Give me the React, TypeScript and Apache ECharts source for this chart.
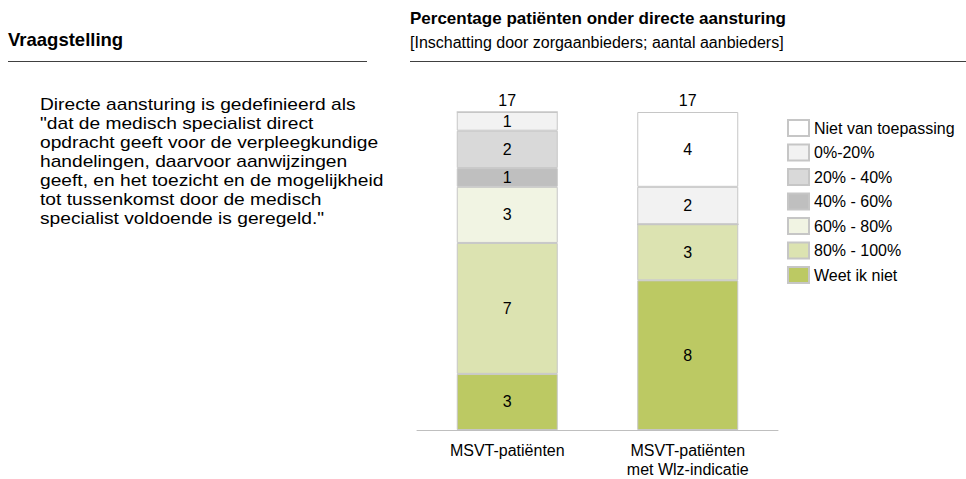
import React, { useEffect, useRef } from "react";
import * as echarts from "echarts";

const categories = ["MSVT-patiënten", "MSVT-patiënten\nmet Wlz-indicatie"];
const seriesNames = ["Weet ik niet", "80% - 100%", "60% - 80%", "40% - 60%", "20% - 40%", "0%-20%", "Niet van toepassing"];
const weetIkNiet = [3, 8];
const p80_100 = [7, 3];
const p60_80 = [3, 0];
const p40_60 = [1, 0];
const p20_40 = [2, 0];
const p0_20 = [1, 2];
const nietVanToepassing = [0, 4];
const totals = [17, 17];
const seriesColors = ["#BCC963", "#DCE3B1", "#F1F4E3", "#BFBFBF", "#D9D9D9", "#F2F2F2", "#FFFFFF"];
const legendOrder = ["Niet van toepassing", "0%-20%", "20% - 40%", "40% - 60%", "60% - 80%", "80% - 100%", "Weet ik niet"];

const paragraph = [
  "Directe aansturing is gedefinieerd als",
  "\"dat de medisch specialist direct",
  "opdracht geeft voor de verpleegkundige",
  "handelingen, daarvoor aanwijzingen",
  "geeft, en het toezicht en de mogelijkheid",
  "tot tussenkomst door de medisch",
  "specialist voldoende is geregeld.\"",
];

const FONT = "'Liberation Sans', Arial, sans-serif";

export default function App() {
  const ref = useRef<HTMLDivElement>(null);
  useEffect(() => {
    if (!ref.current) return;
    const chart = echarts.init(ref.current, undefined, { renderer: "svg" });
    const values = [weetIkNiet, p80_100, p60_80, p40_60, p20_40, p0_20, nietVanToepassing];
    const series: any[] = values.map((v, i) => ({
      name: seriesNames[i],
      type: "bar",
      stack: "total",
      barWidth: 101,
      data: v,
      itemStyle: { color: seriesColors[i], borderColor: "#C6C6C6", borderWidth: 1 },
      label: {
        show: true,
        position: "inside",
        color: "#000",
        fontSize: 16,
        fontFamily: FONT,
        formatter: (p: any) => (p.value ? String(p.value) : ""),
      },
    }));
    series.push({
      name: "totaal",
      type: "bar",
      stack: "total",
      barWidth: 101,
      data: totals.map(() => 0),
      itemStyle: { color: "transparent", borderWidth: 0 },
      label: {
        show: true,
        position: "top",
        distance: 4,
        color: "#000",
        fontSize: 16,
        fontFamily: FONT,
        formatter: (p: any) => String(totals[p.dataIndex]),
      },
    });
    const textStyle = { fill: "#000", fontFamily: FONT };
    chart.setOption({
      animation: false,
      textStyle: { fontFamily: FONT },
      grid: { left: 417, right: 188, top: 112, bottom: 49, containLabel: false },
      xAxis: {
        type: "category",
        data: categories,
        axisLine: { show: true, lineStyle: { color: "#BFBFBF", width: 1 } },
        axisTick: { show: false },
        axisLabel: { color: "#000", fontSize: 16, fontFamily: FONT, margin: 11, lineHeight: 19 },
      },
      yAxis: { type: "value", min: 0, max: 17, show: false },
      legend: {
        data: legendOrder,
        orient: "vertical",
        left: 787,
        top: 119,
        padding: 0,
        itemWidth: 21,
        itemHeight: 16,
        itemGap: 6.5,
        icon: "rect",
        textStyle: { color: "#000", fontSize: 16, fontFamily: FONT },
      },
      series,
      graphic: [
        { type: "text", left: 8, top: 30, style: { ...textStyle, fontSize: 18.5, text: "Vraagstelling", fontWeight: "bold" } },
        { type: "text", left: 410, top: 10, style: { ...textStyle, fontSize: 17, text: "Percentage patiënten onder directe aansturing", fontWeight: "bold" } },
        { type: "text", left: 410, top: 34, style: { ...textStyle, fontSize: 16, text: "[Inschatting door zorgaanbieders; aantal aanbieders]" } },
        { type: "line", shape: { x1: 8, y1: 61.5, x2: 367, y2: 61.5 }, style: { stroke: "#404040", lineWidth: 1 } },
        { type: "line", shape: { x1: 410, y1: 61.5, x2: 966, y2: 61.5 }, style: { stroke: "#404040", lineWidth: 1 } },
        {
          type: "text",
          x: 40,
          y: 95,
          scaleX: 1.2,
          style: { ...textStyle, fontSize: 16, text: paragraph.join("\n"), lineHeight: 19, verticalAlign: "top" },
        },
      ],
    });
    return () => chart.dispose();
  }, []);
  return <div ref={ref} style={{ position: "absolute", left: 0, top: 0, width: 966, height: 479 }} />;
}
